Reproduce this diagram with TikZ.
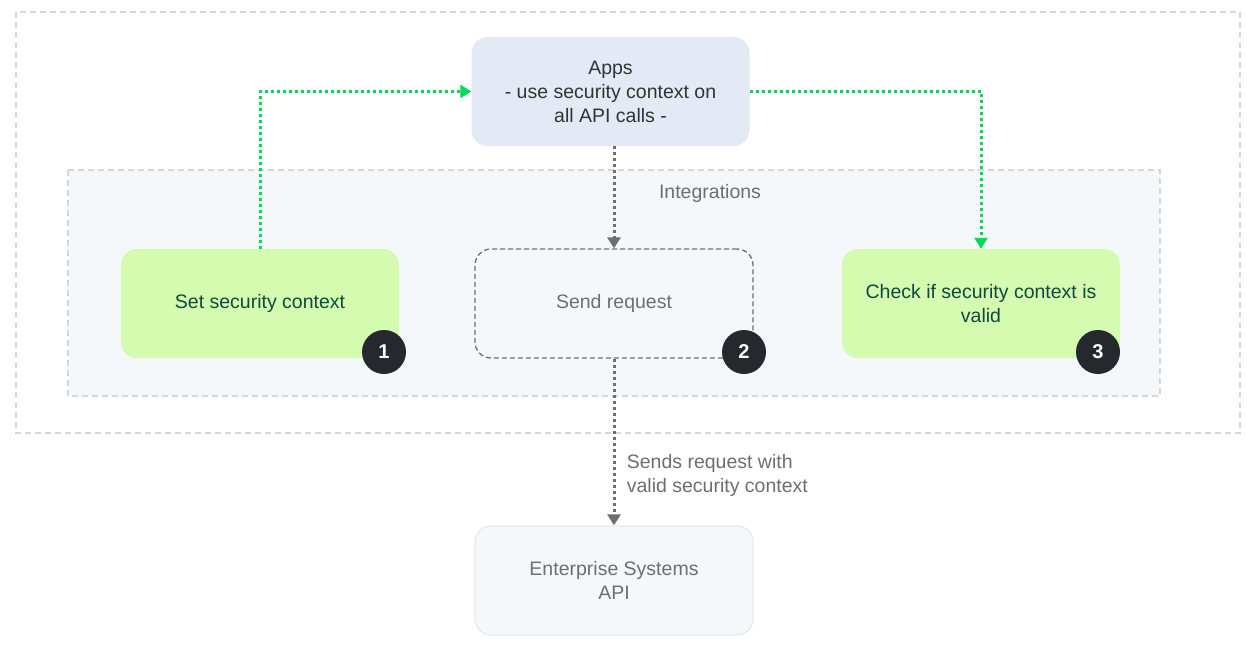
\documentclass[tikz,border=0pt]{standalone}
\usepackage{fontspec}
\setmainfont{Liberation Sans}
\usetikzlibrary{positioning,arrows.meta,backgrounds}
\definecolor{frameline}{RGB}{214,214,214}
\definecolor{integfill}{RGB}{245,248,251}
\definecolor{appsfill}{RGB}{228,234,245}
\definecolor{stepgreen}{RGB}{212,251,176}
\definecolor{stepteal}{RGB}{12,74,64}
\definecolor{flowgreen}{RGB}{0,217,90}
\definecolor{flowgray}{RGB}{110,110,110}
\definecolor{badgedark}{RGB}{37,41,46}
\definecolor{apitext}{RGB}{110,110,110}

\begin{document}
\begin{tikzpicture}[
  x=1pt, y=-1pt,
  every node/.style={font=\fontsize{19.5}{24}\selectfont},
  frame/.style={draw=frameline, line width=1.5pt, dash pattern=on 6pt off 4pt},
  box/.style={rounded corners=16pt, align=center, inner sep=0pt,
    minimum width=278pt, minimum height=109pt},
  apps/.style={box, fill=appsfill, text=black!80},
  stepbox/.style={box, fill=stepgreen, text=stepteal},
  sendbox/.style={box, fill=integfill, draw=flowgray, line width=1.3pt,
    dash pattern=on 5pt off 3pt, text=apitext},
  apibox/.style={box, fill=integfill, draw=appsfill, line width=1.3pt, text=apitext},
  badge/.style={circle, fill=badgedark, text=white, inner sep=0pt,
    minimum size=44pt, font=\fontsize{20}{20}\selectfont\bfseries},
  greenarr/.style={-{Triangle[length=11pt, width=13pt]}, draw=flowgreen,
    line width=3pt, dash pattern=on 3pt off 3pt},
  grayarr/.style={-{Triangle[length=11pt, width=13pt]}, draw=flowgray,
    line width=3pt, dash pattern=on 3pt off 3pt},
]
\useasboundingbox (0,0) rectangle (1247,645);

% ── containers
\draw[frame] (16,12) rectangle (1240,433);
\draw[frame, fill=integfill] (68,170) rectangle (1160,396);
\node[text=apitext] at (710,193) (integ) {Integrations};

% ── top ── Apps
\node[apps] at (610.5, 91.5) (apps) {Apps\\- use security context on\\all API calls -};

% ── middle row ── steps 1,2,3
\node[stepbox] at ( 260, 303.5) (setctx)  {Set security context};
\node[sendbox] at ( 614, 303.5) (send)    {Send request};
\node[stepbox] at ( 981, 303.5) (check)   {Check if security context is\\valid};

\node[badge] at ( 384, 352) (b1) {1};
\node[badge] at ( 744, 352) (b2) {2};
\node[badge] at (1098, 352) (b3) {3};

% ── bottom ── Enterprise API
\node[apibox] at (614, 580.5) (api) {Enterprise Systems\\API};

%% ══════════════════ ARROWS ══════════════════

% step 1 -> Apps -> step 3
\draw[greenarr] (setctx.north) |- (apps.west);
\draw[greenarr] (apps.east)    -| (check.north);

% Apps -> Send request
\draw[grayarr] (send.north |- apps.south) -- (send.north);

% Send request -> API
\draw[grayarr] (send.south) -- (api.north)
  node[pos=0.7, right=8pt, align=left, text=apitext] (sendlbl)
  {Sends request with\\valid security context};

\end{tikzpicture}
\end{document}
